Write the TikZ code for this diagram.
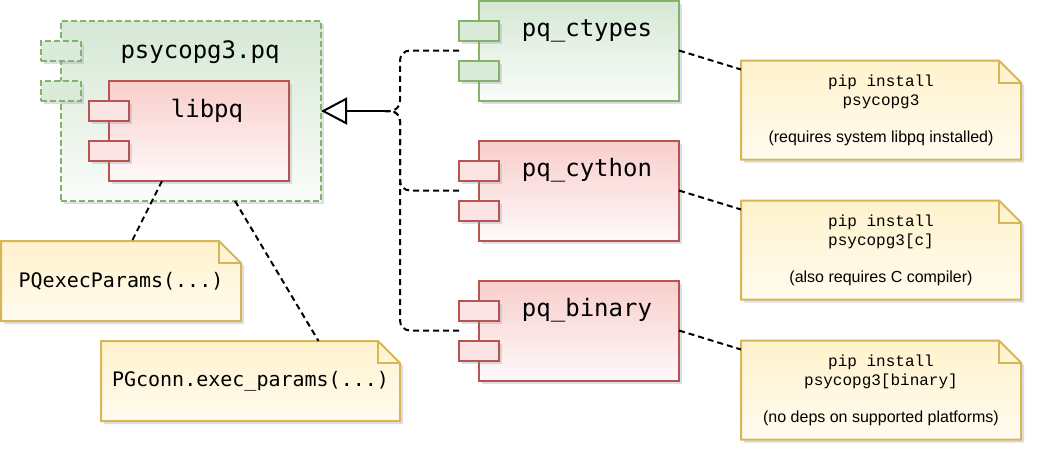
\documentclass[tikz,border=0pt]{standalone}
\usepackage{fontspec}
\setmainfont{Liberation Sans}
\newfontfamily\codefont{DejaVu Sans Mono}
\newfontfamily\pipfont{Liberation Mono}
\usepackage{xcolor}
\usepackage{tikz}
\usetikzlibrary{positioning,arrows.meta,shadows,backgrounds}
\definecolor{grnfill}{HTML}{D5E8D4}
\definecolor{grnline}{HTML}{82B366}
\definecolor{redfill}{HTML}{F8CECC}
\definecolor{redline}{HTML}{B85450}
\definecolor{notefill}{HTML}{FFF2CC}
\definecolor{noteline}{HTML}{D6B656}
\definecolor{shadowgray}{HTML}{8E93B4}

\begin{document}
\begin{tikzpicture}[x=1pt, y=-1pt,
		soft shadow/.style={drop shadow={shadow xshift=3pt, shadow yshift=-3pt, opacity=0.3, fill=shadowgray}},
		comp/.style={line width=2pt, outer sep=0pt, inner sep=0pt, minimum width=200pt, minimum height=100pt, soft shadow},
		green comp/.style={comp, draw=grnline, top color=grnfill, bottom color=grnfill!12},
		red comp/.style={comp, draw=redline, top color=redfill, bottom color=redfill!12},
		port/.style={line width=2pt, outer sep=0pt, inner sep=0pt, minimum width=40pt, minimum height=20pt, soft shadow},
		green port/.style={port, draw=grnline, fill=grnfill!85!white},
		red port/.style={port, draw=redline, fill=redfill!55!white},
		pq port/.style={green port, dash pattern=on 6pt off 3pt},
		title/.style={font=\codefont\fontsize{24}{28}\selectfont, anchor=base, inner sep=0pt},
		pipnote/.style={align=center, outer sep=0pt, inner sep=0pt, minimum width=280pt, minimum height=99pt, font=\pipfont\fontsize{16}{19}\selectfont},
		callnote/.style={outer sep=0pt, inner sep=0pt, minimum height=80pt, font=\codefont\fontsize{20}{24}\selectfont},
		notebg/.style={draw=noteline, line width=2pt, top color=notefill, bottom color=notefill!30, soft shadow},
		link/.style={line width=2pt, dash pattern=on 6pt off 4pt},
		realize/.style={link, rounded corners=10pt}]
		\useasboundingbox (0,0) rectangle (1044,464);
		
		\node[green comp, dash pattern=on 6pt off 3pt, minimum width=260pt, minimum height=180pt] (pq) at (191,111) {};
		\node[red comp, minimum width=180pt, anchor=north west] (lib) at ([xshift=48pt, yshift=-60pt]pq.north west) {};
		\node[green comp] (ct) at (579,50.5) {};
		\node[red comp, below=40pt of ct] (cy) {};
		\node[red comp, below=40pt of cy] (bin) {};
		
		\foreach \c/\s in {pq/pq port, lib/red port, ct/green port, cy/red port, bin/red port}
			\foreach \d in {30,70}
				\node[\s] (\c-p\d) at ([yshift=-\d pt]\c.north west) {};
		
		\node[title] (pq-t) at ([xshift=9pt, yshift=-37pt]pq.north) {psycopg3.pq};
		\node[title] (lib-t) at ([xshift=8pt, yshift=-36pt]lib.north) {libpq};
		\foreach \c/\t in {ct/pq\_ctypes, cy/pq\_cython, bin/pq\_binary}
			\node[title] (\c-t) at ([xshift=8pt, yshift=-36pt]\c.north) {\t};
		
		\node[pipnote, anchor=north west] (n1) at ([xshift=62pt, yshift=-60pt]ct.north east) {pip install\\psycopg3\\[18pt]{\normalfont (requires system libpq installed)}};
		\node[pipnote, below=41pt of n1] (n2) {pip install\\psycopg3[c]\\[18pt]{\normalfont (also requires C compiler)}};
		\node[pipnote, below=41pt of n2] (n3) {pip install\\psycopg3[binary]\\[18pt]{\normalfont (no deps on supported platforms)}};
		\node[callnote, minimum width=240pt, anchor=north west] (pqe) at ([xshift=-60pt, yshift=-40pt]pq.south west) {PQexecParams(...)};
		\node[callnote, minimum width=299pt, anchor=north west] (pgc) at ([xshift=100pt, yshift=-20pt]pqe.south west) {PGconn.exec\_params(...)};
		
		\begin{scope}[on background layer]
			\fill[white] (0,0) rectangle (1044,464);
			\foreach \n in {n1,n2,n3,pqe,pgc} {
				\draw[notebg] (\n.north west) -- ([xshift=-22pt]\n.north east) -- ([yshift=-22pt]\n.north east) -- (\n.south east) -- (\n.south west) -- cycle;
				\draw[draw=noteline, line width=2pt] ([xshift=-22pt]\n.north east) -- ([xshift=-22pt, yshift=-22pt]\n.north east) -- ([yshift=-22pt]\n.north east);
			}
		\end{scope}
		
		\coordinate (fork) at ([xshift=79pt]pq.east);
		\coordinate (join) at ([xshift=64pt]pq.east);
		\foreach \c in {ct,cy,bin}
			\draw[realize] ([xshift=-20pt]\c.west) -| (fork) -- (join);
		\draw[line width=2pt, -{Triangle[open, length=26pt, width=27pt]}] (join) -- (pq.east);
		
		\foreach \c/\n in {ct/n1, cy/n2, bin/n3}
			\draw[link] (\c.east) -- ([yshift=-9pt]\n.north west);
		\draw[link] ([xshift=-37pt]lib.south) -- ([xshift=11pt]pqe.north);
		\draw[link] ([xshift=44pt]pq.south) -- ([xshift=68pt]pgc.north);
	\end{tikzpicture}
\end{document}
